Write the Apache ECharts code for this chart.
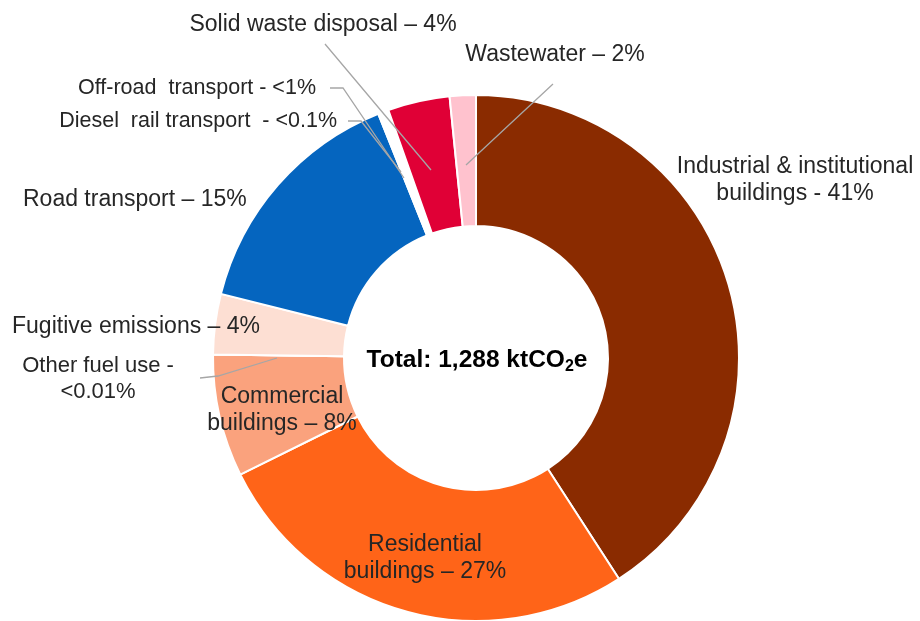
<!DOCTYPE html>
<html>
<head>
<meta charset="utf-8">
<script src="https://cdn.jsdelivr.net/npm/echarts@6/dist/echarts.min.js"></script>
<style>html,body{margin:0;padding:0;background:#fff;}#c{width:920px;height:621px;}</style>
</head>
<body>
<div id="c"></div>
<script>
// Data (share of total emissions, %)
const categories = ['Industrial & institutional buildings', 'Residential buildings', 'Commercial buildings', 'Other fuel use', 'Fugitive emissions', 'Road transport', 'Diesel rail transport', 'Off-road transport', 'Solid waste disposal', 'Wastewater'];
const shares = [40.8, 26.8, 7.5, 0.01, 3.7, 15.0, 0.05, 0.6, 3.8, 1.6];
const labelTexts = [
  'Industrial & institutional\nbuildings - 41%',
  'Residential\nbuildings \u2013 27%',
  'Commercial\nbuildings \u2013 8%',
  'Other fuel use -\n<0.01%',
  'Fugitive emissions \u2013 4%',
  'Road transport \u2013 15%',
  'Diesel  rail transport  - <0.1%',
  'Off-road  transport - <1%',
  'Solid waste disposal \u2013 4%',
  'Wastewater \u2013 2%'
];
const totalText = 'Total: 1,288 ktCO';

const colors = ['#8A2B00', '#FF6418', '#FAA27D', '#FAA27D', '#FDDFD3', '#0565BF', '#0565BF', '#FFFFFF', '#E00036', '#FFC2CE'];
// label placement (anchor x, y, align, font size)
const labelPos = [
  [795, 180, 'center', 23], [425, 558, 'center', 23], [282, 410, 'center', 23], [98, 379, 'center', 22],
  [12, 327, 'left', 23], [23, 200, 'left', 23], [337, 121, 'right', 21.5], [316, 88, 'right', 21.5],
  [323, 25, 'center', 23], [555, 55, 'center', 23]
];
const leaderLines = [
  [[200, 378], [218, 376], [277, 358]],
  [[348, 121], [361, 121], [401, 172]],
  [[330, 88], [343, 88], [404, 178]],
  [[325, 44], [378, 107], [431, 170]],
  [[553, 84], [510, 124], [466, 165]]
];

const font = 'Liberation Sans, Arial, sans-serif';
const chart = echarts.init(document.getElementById('c'), null, {renderer: 'canvas'});
const data = categories.map((name, i) => ({
  name: name,
  value: shares[i],
  itemStyle: {color: colors[i]},
  label: {formatter: labelTexts[i], fontSize: labelPos[i][3], lineHeight: labelPos[i][3] + 4}
}));

chart.setOption({
  animation: false,
  series: [{
    type: 'pie',
    center: [476, 358],
    radius: [132, 263],
    startAngle: 90,
    clockwise: true,
    avoidLabelOverlap: false,
    minShowLabelAngle: 0,
    itemStyle: {borderColor: '#fff', borderWidth: 2},
    label: {
      show: true,
      position: 'outside',
      overflow: 'none',
      fontFamily: font,
      fontSize: 23,
      lineHeight: 27,
      color: '#262626'
    },
    labelLine: {show: false},
    labelLayout: function (p) {
      const lp = labelPos[p.dataIndex];
      return {x: lp[0], y: lp[1], align: lp[2], verticalAlign: 'middle'};
    },
    data: data
  }],
  graphic: leaderLines.map(pts => ({
    type: 'polyline',
    z: 100,
    shape: {points: pts},
    style: {stroke: '#A6A6A6', lineWidth: 1.3, fill: null}
  })).concat([{
    type: 'text',
    x: 477,
    y: 360,
    z: 100,
    style: {
      text: '{b|' + totalText + '}{s|2}{b|e}',
      align: 'center',
      verticalAlign: 'middle',
      rich: {
        b: {fontFamily: font, fontSize: 24.5, fontWeight: 'bold', color: '#000', lineHeight: 28, verticalAlign: 'middle'},
        s: {fontFamily: font, fontSize: 16, fontWeight: 'bold', color: '#000', padding: [13, 0, 0, 0], verticalAlign: 'middle'}
      }
    }
  }])
});
</script>
</body>
</html>
